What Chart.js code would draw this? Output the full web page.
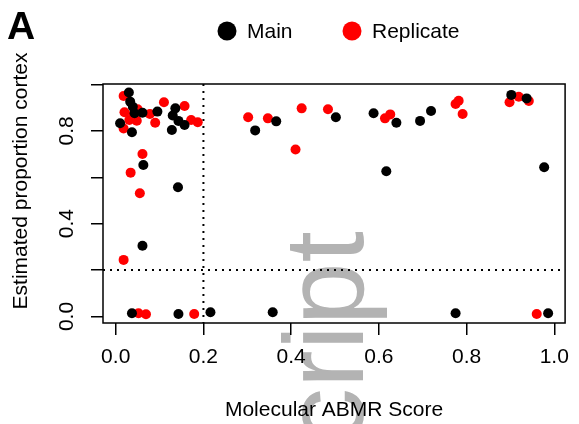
<!DOCTYPE html>
<html>
<head>
<meta charset="utf-8">
<script src="https://cdn.jsdelivr.net/npm/chart.js@4/dist/chart.umd.min.js"></script>
<style>
  html, body { margin: 0; padding: 0; background: #fff; }
  #wrap { width: 579px; height: 424px; }
</style>
</head>
<body>
<div id="wrap"><canvas id="chart" width="579" height="424"></canvas></div>
<script>
const seriesNames = ['Main', 'Replicate'];
const seriesColors = ['#000000', '#ff0000'];

const mainX = [0.010, 0.030, 0.033, 0.039, 0.043, 0.061, 0.095, 0.136, 0.130, 0.143, 0.157, 0.128, 0.037, 0.063, 0.142, 0.061, 0.037, 0.143, 0.216, 0.358, 0.318, 0.366, 0.502, 0.588, 0.617, 0.640, 0.694, 0.719, 0.775, 0.902, 0.937, 0.977, 0.986];
const mainY = [0.833, 0.965, 0.926, 0.904, 0.876, 0.878, 0.883, 0.897, 0.866, 0.843, 0.825, 0.804, 0.794, 0.653, 0.557, 0.305, 0.014, 0.011, 0.018, 0.018, 0.802, 0.841, 0.859, 0.876, 0.626, 0.835, 0.843, 0.886, 0.014, 0.955, 0.940, 0.643, 0.014];

const repX = [0.018, 0.020, 0.018, 0.031, 0.048, 0.050, 0.040, 0.078, 0.090, 0.110, 0.157, 0.172, 0.187, 0.061, 0.034, 0.055, 0.018, 0.052, 0.069, 0.179, 0.302, 0.347, 0.410, 0.424, 0.484, 0.614, 0.626, 0.775, 0.782, 0.791, 0.898, 0.919, 0.942, 0.960];
const repY = [0.950, 0.880, 0.810, 0.847, 0.844, 0.893, 0.872, 0.873, 0.835, 0.923, 0.907, 0.847, 0.837, 0.700, 0.620, 0.531, 0.244, 0.014, 0.010, 0.011, 0.859, 0.854, 0.720, 0.897, 0.893, 0.854, 0.871, 0.916, 0.930, 0.873, 0.923, 0.947, 0.929, 0.011];

const xTicks = [0, 0.2, 0.4, 0.6, 0.8, 1.0];
const xTickLabels = ['0.0', '0.2', '0.4', '0.6', '0.8', '1.0'];
const yTicks = [0, 0.2, 0.4, 0.6, 0.8, 1.0];
const yTickLabels = ['0.0', '', '0.4', '', '0.8', ''];

const cutX = 0.2;
const cutY = 0.2;

const FONT = "'Liberation Sans', Arial, Helvetica, sans-serif";

function toPoints(xs, ys) {
    return xs.map((x, i) => ({ x: x, y: ys[i] }));
}

// gray watermark behind the plot
const watermark = {
    id: 'watermark',
    beforeDraw(chart) {
        const ctx = chart.ctx;
        ctx.save();
        ctx.translate(363, 231);
        ctx.rotate(-Math.PI / 2);
        ctx.font = '113px ' + FONT;
        ctx.fillStyle = '#b3b3b3';
        ctx.textAlign = 'right';
        ctx.textBaseline = 'alphabetic';
        ctx.fillText('Author Manuscript', 0, 0);
        ctx.restore();
    }
};

// box, cutoff lines, legend, y title and panel letter
const decorations = {
    id: 'decorations',
    beforeDatasetsDraw(chart) {
        const ctx = chart.ctx;
        const a = chart.chartArea;
        const px = chart.scales.x.getPixelForValue(cutX);
        const py = chart.scales.y.getPixelForValue(cutY);
        ctx.save();
        ctx.strokeStyle = '#000';
        ctx.lineWidth = 2;
        ctx.setLineDash([2, 5]);
        ctx.beginPath();
        ctx.moveTo(px, a.top);
        ctx.lineTo(px, a.bottom);
        ctx.moveTo(a.left, py);
        ctx.lineTo(a.right, py);
        ctx.stroke();
        ctx.setLineDash([]);
        ctx.lineWidth = 1.5;
        ctx.strokeRect(a.left, a.top, a.right - a.left, a.bottom - a.top);
        ctx.restore();
    },
    afterDraw(chart) {
        const ctx = chart.ctx;
        ctx.save();
        ctx.fillStyle = '#000';
        ctx.font = 'bold 39px ' + FONT;
        ctx.textBaseline = 'alphabetic';
        ctx.fillText('A', 7, 39);

        // y axis title
        ctx.save();
        ctx.translate(21, 181);
        ctx.rotate(-Math.PI / 2);
        ctx.font = '21px ' + FONT;
        ctx.textAlign = 'center';
        ctx.textBaseline = 'middle';
        ctx.fillText('Estimated proportion cortex', 0, 0);
        ctx.restore();

        const legendX = [227, 352];
        ctx.font = '21px ' + FONT;
        ctx.textBaseline = 'middle';
        chart.data.datasets.forEach((ds, i) => {
            ctx.fillStyle = ds.backgroundColor;
            ctx.beginPath();
            ctx.arc(legendX[i], 31, 9.5, 0, Math.PI * 2);
            ctx.fill();
            ctx.fillStyle = '#000';
            ctx.fillText(ds.label, legendX[i] + 20, 32);
        });
        ctx.restore();
    }
};

document.addEventListener('DOMContentLoaded', () => {
    const ctx = document.getElementById('chart').getContext('2d');
    new Chart(ctx, {
        type: 'scatter',
        data: {
            datasets: [
                { label: seriesNames[0], data: toPoints(mainX, mainY), backgroundColor: seriesColors[0], borderWidth: 0, pointRadius: 5 },
                { label: seriesNames[1], data: toPoints(repX, repY), backgroundColor: seriesColors[1], borderWidth: 0, pointRadius: 5 }
            ]
        },
        options: {
            responsive: false,
            animation: false,
            layout: { padding: { top: 84, right: 6, left: 0, bottom: 0 } },
            plugins: {
                legend: { display: false },
                tooltip: { enabled: false }
            },
            scales: {
                x: {
                    type: 'linear',
                    min: -0.029,
                    max: 1.0247,
                    afterBuildTicks: (s) => { s.ticks = xTicks.map(v => ({ value: v })); },
                    afterFit: (s) => { s.height = 101; },
                    border: { display: false },
                    grid: { drawOnChartArea: false, drawTicks: true, tickLength: 12, color: '#000', lineWidth: 1.5 },
                    ticks: {
                        color: '#000',
                        font: { family: FONT, size: 21 },
                        padding: 10,
                        maxRotation: 0,
                        autoSkip: false,
                        callback: (v, i) => xTickLabels[i]
                    },
                    title: {
                        display: true,
                        text: 'Molecular ABMR Score',
                        color: '#000',
                        font: { family: FONT, size: 21 },
                        padding: { top: 0, bottom: 1 }
                    }
                },
                y: {
                    type: 'linear',
                    min: -0.028,
                    max: 1.002,
                    afterBuildTicks: (s) => { s.ticks = yTicks.map(v => ({ value: v })); },
                    afterFit: (s) => { s.width = 103; },
                    border: { display: false },
                    grid: { drawOnChartArea: false, drawTicks: true, tickLength: 12, color: '#000', lineWidth: 1.5 },
                    ticks: {
                        color: '#000',
                        font: { family: FONT, size: 21 },
                        padding: 9,
                        minRotation: 90,
                        maxRotation: 90,
                        crossAlign: 'center',
                        autoSkip: false,
                        callback: (v, i) => yTickLabels[i]
                    }
                }
            }
        },
        plugins: [watermark, decorations]
    });
});
</script>
</body>
</html>
